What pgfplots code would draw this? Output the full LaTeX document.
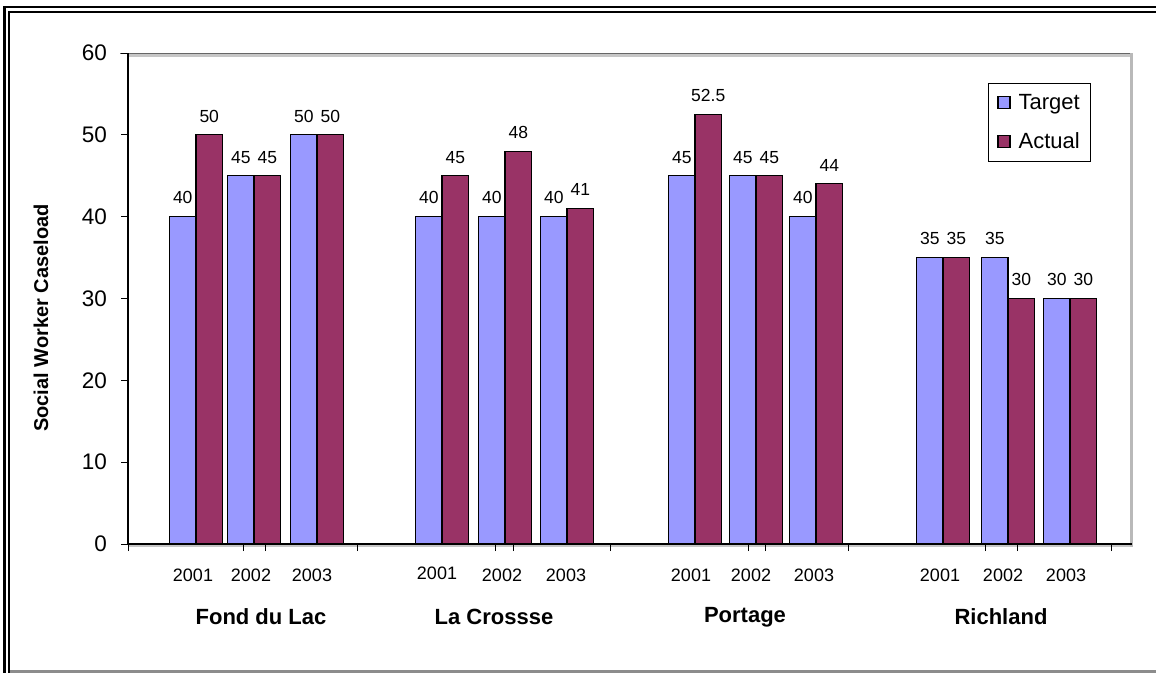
\documentclass[border=0pt]{standalone}
\usepackage{pgfplots}
\pgfplotsset{compat=1.18}
\usepackage{fontspec}
\setmainfont{Liberation Sans}
\definecolor{target}{HTML}{9999FF}
\definecolor{actual}{HTML}{993366}
\definecolor{frameg}{HTML}{8C8C8C}
\pgfplotsset{/pgf/number format/assume math mode=true,
  boxlegend/.style={legend image code/.code={\draw[##1, line width=1.2pt] (0pt,-6pt) rectangle (12pt,6pt);}}}

\begin{document}
\begin{tikzpicture}[x=1pt,y=1pt]
% frame of the plot area: grey top/right edges and shadow under the x axis
\draw[line width=3pt, gray!45] (128,-545.5) -- (1133,-545.5);
\draw[line width=2.5pt, gray!45] (128,-55.5) -- (1133,-55.5);
\draw[line width=1pt, gray!80!black] (120,-53.5) -- (1133,-53.5);
\draw[line width=3pt, gray!55] (1131.5,-53) -- (1131.5,-547);

\begin{axis}[
  at={(128pt,-544pt)}, anchor=south west,
  scale only axis, width=1004pt, height=491pt,
  xmin=128, xmax=1132, ymin=0, ymax=60,
  axis lines*=left, axis line style={-, line width=1.1pt},
  clip=false,
  ytick={0,10,...,60},
  xtick={128,243,265,357,495,513,610,748,765,848,985,1017,1111},
  xticklabels={},
  tick align=outside,
  major tick length=7pt,
  tick style={black, line width=0.9pt},
  yticklabel style={font=\fontsize{22.5}{25}\selectfont, inner sep=0pt, xshift=-14pt},
  ybar=0pt, bar width=26.5,
  nodes near coords,
  nodes near coords style={font=\fontsize{17.5}{20}\selectfont, inner sep=0pt, anchor=south, yshift=12pt},
  legend style={at={(0.8566,0.9389)}, anchor=north west, draw=black, line width=0.8pt,
    font=\fontsize{22}{26}\selectfont, inner xsep=9pt, inner ysep=9pt, row sep=18pt,
    /tikz/every odd column/.append style={column sep=6pt}},
  legend cell align=left,
]
\addplot[fill=target, draw=black, line width=1.1pt, boxlegend]
  coordinates {(196,40) (254,45) (317,50) (442,40) (505,40) (567,40)
               (695,45) (756,45) (816,40) (943,35) (1008,35) (1070,30)};
\addlegendentry{Target}
\addplot[fill=actual, draw=black, line width=1.1pt, boxlegend]
  coordinates {(196,50) (254,45) (317,50) (442,45) (505,48) (567,41)
               (695,52.5) (756,45) (816,44) (943,35) (1008,30) (1070,30)};
\addlegendentry{Actual}
\end{axis}

% outer double border
\draw[line width=2.5pt] (1156,-7) -- (4.5,-7) -- (4.5,-673);
\draw[line width=1.5pt] (1156,-12) -- (9,-12) -- (9,-673);
\draw[line width=3pt, color=frameg] (10,-671.5) -- (1156,-671.5);

% year labels
\begin{scope}[every node/.style={font=\fontsize{18}{21}\selectfont}]
\node at (193,-575) {2001};
\node at (251,-575) {2002};
\node at (312,-575) {2003};
\node at (437,-573) {2001};
\node at (502,-575) {2002};
\node at (566,-575) {2003};
\node at (691,-575) {2001};
\node at (751,-575) {2002};
\node at (814,-575) {2003};
\node at (940,-575) {2001};
\node at (1003,-575) {2002};
\node at (1066,-575) {2003};
\end{scope}

% county labels
\begin{scope}[every node/.style={font=\bfseries\fontsize{22}{26}\selectfont}]
\node at (261,-617) {Fond du Lac};
\node at (494,-617) {La Crossse};
\node at (745,-617) {Portage};
\node at (1001,-617) {Richland};
\end{scope}

\node[rotate=90, font=\bfseries\fontsize{20}{24}\selectfont] at (41,-318) {Social Worker Caseload};

\pgfresetboundingbox
\path[use as bounding box] (0,0) rectangle (1156,-673);
\end{tikzpicture}
\end{document}
